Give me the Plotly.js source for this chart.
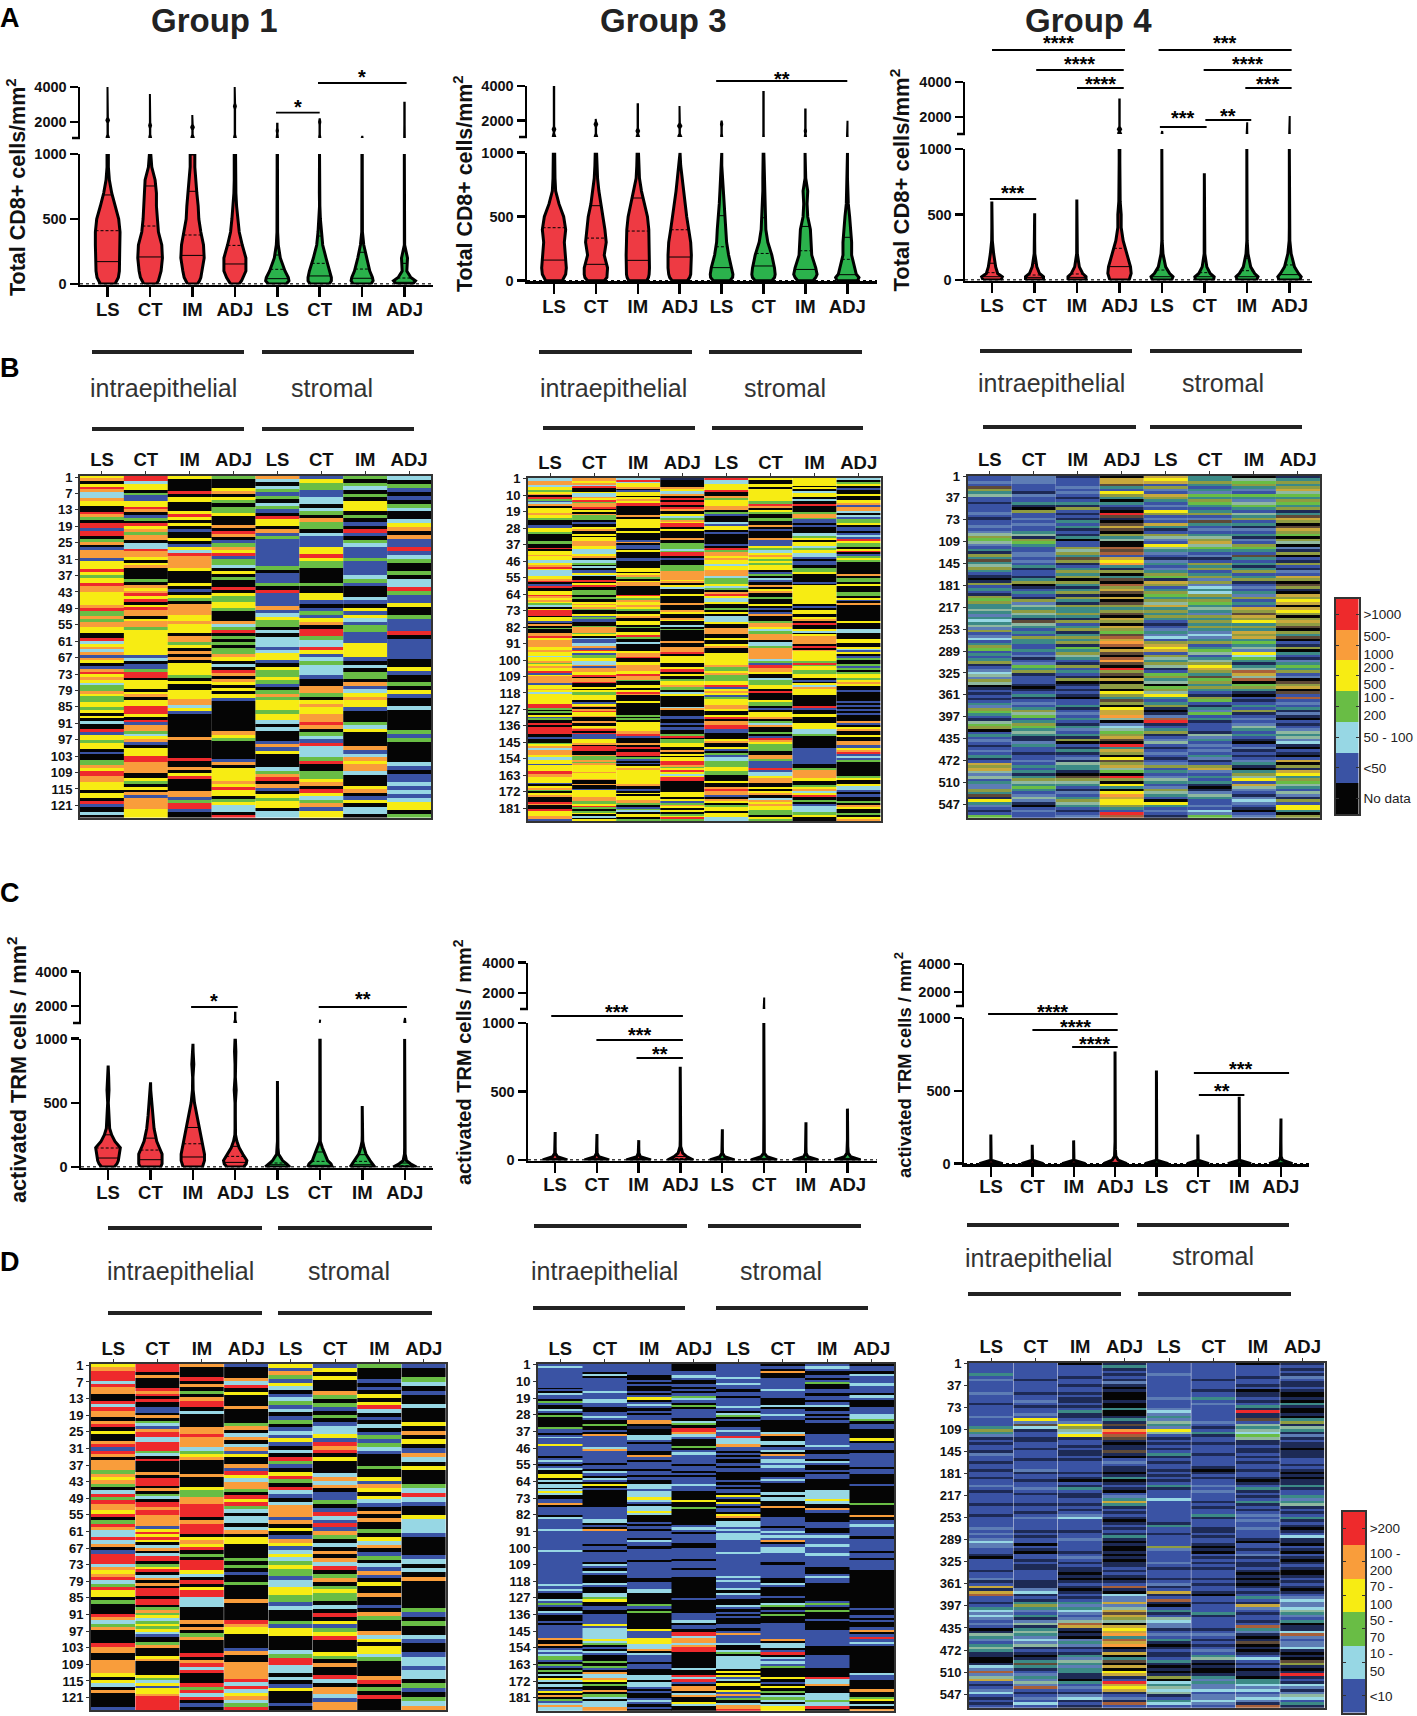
<!DOCTYPE html>
<html>
<head>
<meta charset="utf-8">
<script src="https://cdn.plot.ly/plotly-3.0.1.min.js"></script>
<style>html,body{margin:0;padding:0;background:#fff}</style>
</head>
<body>
<div id="plot" style="width:1417px;height:1716px"></div>
<script>
const W = 1417, H = 1716;
const FONT = '"Liberation Sans", Arial, sans-serif';
const sites = ['LS', 'CT', 'IM', 'ADJ', 'LS', 'CT', 'IM', 'ADJ'];

// violin outlines. widths are half widths at each knot
const cd8Knots = [0, 25, 50, 100, 200, 300, 400, 500, 600, 700, 800, 900, 1000];
const g1Cd8Widths = [
  [25, 31, 35, 38, 40, 40, 40, 36, 25, 15, 8, 5, 5],
  [22, 28, 32, 36, 40, 38, 28, 24, 22, 22, 18, 8, 5],
  [18, 24, 28, 32, 38, 36, 28, 22, 20, 16, 12, 10, 10],
  [16, 23, 28, 36, 36, 25, 16, 12, 8, 6, 5, 5, 5],
  [30, 38, 36, 26, 12, 6, 4, 3, 4, 3, 3, 3, 3],
  [32, 38, 38, 34, 22, 12, 8, 5, 3, 4, 4, 3, 2],
  [30, 36, 34, 26, 16, 8, 4, 3, 3, 3, 3, 3, 3],
  [28, 36, 22, 10, 12, 3, 3, 2, 2, 2, 2, 2, 2]
];
const g1Cd8LowMax = [1000, 1000, 1000, 1000, 1000, 1000, 1000, 1000];
const g1Cd8Tops = [4000, 3600, 2400, 4000, 1900, 2200, 1200, 3100];
const g1Cd8TopWidths = [4, 3, 4, 3, 2, 2, 1.5, 1];
const g1Cd8Bulges = [2100, 1800, 1700, 2900, 1500, 2000, 0, 1700];
const g1Cd8Q1 = [172, 208, 220, 154, 41, 62, 44, 13];
const g1Cd8Med = [410, 446, 377, 297, 113, 159, 115, 46];
const g1Cd8Q3 = [685, 754, 713, 690, 223, 369, 244, 159];

const g3Cd8Widths = [
  [28, 34, 38, 40, 36, 34, 38, 32, 18, 8, 6, 5, 5],
  [28, 36, 38, 38, 28, 34, 30, 26, 18, 12, 8, 6, 5],
  [30, 35, 37, 38, 38, 37, 36, 32, 24, 14, 8, 6, 5],
  [26, 33, 36, 38, 38, 36, 30, 24, 18, 14, 10, 6, 4],
  [28, 36, 37, 34, 24, 18, 16, 12, 10, 8, 6, 3, 2],
  [28, 36, 38, 36, 28, 16, 10, 8, 6, 5, 5, 5, 4],
  [26, 34, 38, 34, 22, 20, 18, 10, 8, 10, 4, 4, 4],
  [34, 38, 30, 26, 16, 16, 14, 10, 6, 5, 3, 3, 2]
];
const g3Cd8LowMax = [1000, 1000, 1000, 1000, 1000, 1000, 1000, 1000];
const g3Cd8Tops = [3950, 2100, 2950, 2850, 2000, 3650, 2650, 2000];
const g3Cd8TopWidths = [4, 4, 4, 5, 2, 1, 2, 1];
const g3Cd8Bulges = [1500, 1800, 1400, 1700, 1800, 0, 1400, 0];
const g3Cd8Q1 = [161, 128, 159, 185, 102, 115, 88, 47];
const g3Cd8Med = [414, 333, 388, 398, 265, 213, 234, 167];
const g3Cd8Q3 = [721, 586, 646, 890, 508, 492, 424, 339];

const g4Cd8Widths = [
  [30, 34, 20, 14, 8, 4, 2, 2, 2, 2, 2, 2, 2],
  [30, 30, 18, 10, 4, 3, 2, 2, 2, 2, 2, 2, 2],
  [30, 30, 20, 10, 4, 4, 2, 2, 2, 2, 2, 2, 2],
  [32, 36, 38, 36, 24, 14, 8, 8, 5, 4, 4, 4, 4],
  [32, 36, 26, 14, 6, 3, 3, 2, 2, 2, 2, 2, 2],
  [30, 32, 20, 10, 4, 3, 2, 2, 2, 2, 2, 2, 2],
  [32, 36, 26, 14, 6, 3, 2, 2, 2, 2, 2, 2, 2],
  [34, 38, 30, 18, 8, 4, 3, 3, 2, 2, 2, 2, 2]
];
const g4Cd8LowMax = [600, 510, 615, 1000, 1000, 815, 1000, 1000];
const g4Cd8Tops = [0, 0, 0, 3000, 1200, 0, 1700, 2050];
const g4Cd8TopWidths = [0, 0, 0, 5, 1.5, 0, 1, 1];
const g4Cd8Bulges = [0, 0, 0, 1300, 0, 0, 0, 0];
const g4Cd8Q1 = [25, 20, 20, 102, 25, 25, 25, 41];
const g4Cd8Med = [56, 38, 46, 242, 76, 56, 71, 115];
const g4Cd8Q3 = [128, 128, 140, 535, 178, 148, 166, 242];

const trmKnots = [0, 25, 50, 100, 150, 200, 250, 300, 400, 500, 600, 700, 800, 900, 1000];
const g1TrmWidths = [
  [22, 30, 34, 38, 40, 24, 14, 8, 6, 4, 6, 5, 1, 1, 1],
  [34, 38, 38, 38, 30, 22, 18, 14, 10, 7, 4, 2, 2, 2, 2],
  [32, 36, 38, 38, 34, 30, 27, 24, 16, 8, 4, 3, 6, 4, 2],
  [28, 36, 38, 26, 15, 8, 4, 3, 3, 3, 6, 3, 3, 5, 3],
  [40, 30, 18, 6, 4, 3, 2, 2, 2, 2, 2, 2, 2, 2, 2],
  [40, 36, 26, 18, 10, 4, 3, 3, 3, 5, 3, 3, 3, 3, 3],
  [40, 34, 26, 14, 8, 4, 3, 3, 3, 2, 2, 2, 2, 2, 2],
  [38, 20, 8, 4, 3, 3, 2, 2, 2, 2, 2, 2, 2, 2, 2]
];
const g1TrmLowMax = [790, 660, 960, 1000, 670, 1000, 475, 1000];
const g1TrmTops = [0, 0, 0, 1600, 0, 1200, 0, 1300];
const g1TrmTopWidths = [0, 0, 0, 3, 0, 0.8, 0, 2];
const g1TrmBulges = [0, 0, 0, 0, 0, 0, 0, 0];
const g1TrmQ1 = [70, 57, 78, 36, 18, 13, 18, 5];
const g1TrmMed = [148, 132, 181, 83, 31, 44, 44, 10];
const g1TrmQ3 = [251, 225, 308, 161, 96, 117, 96, 31];

const g3TrmWidths = [
  [40, 10, 4, 3, 3, 2, 2, 2, 2, 2, 2, 2, 2, 2, 2],
  [40, 9, 4, 3, 3, 2, 2, 2, 2, 2, 2, 2, 2, 2, 2],
  [40, 8, 4, 3, 3, 2, 2, 2, 2, 2, 2, 2, 2, 2, 2],
  [42, 22, 10, 4, 3, 3, 2, 2, 2, 2, 2, 2, 2, 2, 2],
  [40, 10, 4, 3, 3, 2, 2, 2, 2, 2, 2, 2, 2, 2, 2],
  [42, 12, 4, 3, 3, 2, 2, 2, 2, 2, 2, 2, 2, 2, 2],
  [40, 9, 4, 3, 3, 2, 2, 2, 2, 2, 2, 2, 2, 2, 2],
  [42, 12, 5, 3, 3, 2, 2, 2, 2, 2, 2, 2, 2, 2, 2]
];
const g3TrmLowMax = [205, 190, 145, 680, 225, 1000, 275, 375];
const g3TrmTops = [0, 0, 0, 0, 0, 1700, 0, 0];
const g3TrmTopWidths = [0, 0, 0, 0, 0, 1, 0, 0];
const g3TrmBulges = [0, 0, 0, 0, 0, 0, 0, 0];
const g3TrmQ1 = [2, 2, 2, 4, 2, 2, 2, 2];
const g3TrmMed = [5, 5, 5, 10, 5, 5, 5, 5];
const g3TrmQ3 = [12, 12, 12, 25, 12, 12, 12, 12];

const g4TrmWidths = [
  [38, 3, 2, 2, 2, 2, 2, 2, 2, 2, 2, 2, 2, 2, 2],
  [36, 3, 2, 2, 2, 2, 2, 2, 2, 2, 2, 2, 2, 2, 2],
  [38, 3, 2, 2, 2, 2, 2, 2, 2, 2, 2, 2, 2, 2, 2],
  [38, 12, 5, 3, 2, 2, 2, 2, 2, 2, 2, 2, 2, 2, 2],
  [38, 3, 2, 2, 2, 2, 2, 2, 2, 2, 2, 2, 2, 2, 2],
  [36, 3, 2, 2, 2, 2, 2, 2, 2, 2, 2, 2, 2, 2, 2],
  [38, 3, 2, 2, 2, 2, 2, 2, 2, 2, 2, 2, 2, 2, 2],
  [38, 8, 4, 2, 2, 2, 2, 2, 2, 2, 2, 2, 2, 2, 2]
];
const g4TrmLowMax = [200, 130, 160, 770, 640, 200, 460, 310];
const g4TrmTops = [0, 0, 0, 0, 0, 0, 0, 0];
const g4TrmTopWidths = [0, 0, 0, 0, 0, 0, 0, 0];
const g4TrmBulges = [0, 0, 0, 0, 0, 0, 0, 0];
const g4TrmQ1 = [1, 1, 1, 2, 1, 1, 1, 1];
const g4TrmMed = [2, 2, 2, 4, 2, 2, 2, 2];
const g4TrmQ3 = [4, 4, 4, 9, 4, 4, 4, 4];

// patient rows, top to bottom, one letter per band of cells as they show in the figure
// k no data, b lowest class, c, g, y, o, r highest class
// n t l m s a w p = blended tones seen in the two densest maps
const heatA1 = [
  'yokyroccoyykkrogkrrbrrkgokbooobyyyrygyyrooyyyyyorggogooyykkrcyocoboykboryoycggoyggyygykykckkrbyygyykbkkggoyrrooyyykyykrbkkck',
  'rrcyykgbbyyrokbgkryogookccrooykyokkkkgkoyoryrkyrookyoogyyyyyyyyybckbbgrrkyyykyokyyrrrykrboogcyobkyyyrrooookkygkykobooooyyy',
  'ykkkkrkyykkkyrykykbkkykbycrooooykkkkykbkygkooooyyoyyykoogykokokyyyygkykkyyyoocybkkkkkkkkokkkkkkrkkokyrkkkkoobgrrbkk',
  'gkkkyokygkggykkkokrokbgoyrbggckykgkkrkyggyygkkkocgrkgkgkggoykckrokoykykybkkkkkkkkkkoygkkkkkkbokyyyyoyryykgycckr',
  'ockcgbgkcgbkryykobgbbbbbbbbgkbbbgkrbbbbobcyggkckcccbcyybkyggygbkgogyyygyyckckkkbobykkkkcgorkobkygyykcc',
  'byggbbcckcgkoggkcbbbyyryggkkkkgkkyybkbgbyokrrgccrybcgcccbkkoogkyoyyoorokgcbrcccgrkkggyokrycgobyy',
  'gkgckgkyyykgkbkrbkgcbbbgbbbbcgbkkkcbkybycbggbbbyyyybkckggkobcyoyybkkkgcykkkkobcoyoockkkyokbykcck',
  'ckgbkbkgckkcyokobbrbcgkkgkccrgbbykkgbbbrkbbbbbkkybkkgkybkkckkkkkgbgkkkkkcbkbbcbcbcyykg'
];

const heatA3 = [
  'ccoocyygyokrgbcokyyyoyygkkkbbyygkkkkggkkrkyyoyyccyorycccyyorkbrkkyyroyoygckyrrrkyybkokgkkooryooooyyoyycyyogyoyyrbyoooobyyoycyyyyyyrrgkgkybgkkrkrrrrkkbkkgyocoooyccyybyyyrrooyyybkyogkyokkkrokkryyyoob',
  'ooyocrkkyccoyrgoorkykogggkbkkyokkykyyoooyycccyokccgkckbbyckkrkyrkkgggkgkkyoyogkkybgbbkkgooogykcbbccobrybggyyccobooyyrkoorkkykyggyyykbyokoryyokkokkyorkrbbbyyokrrrkkoggogoyyyyoyyyokkokkbyyyyooggyrgkgykcky',
  'crcyyokbyykyoyrrkkkkkokyyyyykkykkkkbokbbkykkkbbkkkkyykyogkyookkkkkrygoyyoygkkyokkyykgkkyyrgkkckkkkyoorkkyyoooyyroogkkyykyrokkkykkkkkkkgkgkyyyyyoorbkkkokrkkrrkgbkbkyoyyyyyyyyokkbkykyyoogkbgckyykg',
  'nkkkkoyccokrkrrkrokkycgoyrrkykkkkokkgggcgrrkbkkkgggoooooyokyckkkykkkkokkkoykkoykkckgkkkkkkokkooorkyyyykkyrrkykkgyyoggkcykkkkkkcokkkbbkkbkbbkkgrkggyykkokykyyrrogyrycyrrkkkkkkyyykybgoykykgyrg',
  'rccyyyrkkogyyyookgbkkkcbyykbkkkkkbkrgooyoyycyyooocgggycgkoryccykkgkykcccykkoookkykkyokkyyyyyyoggyogggyyrbyoybgyyyooykkyrkoorrbbkkkyokkybkgbccgggyyggkkkykkoroobkoykgyykyycc',
  'ykkykyyyyyygrokygkkgkkokbkkkobbbygcyoygygyykbgkcbkokyokkgkkykbkbokkgooycgoookccgooooocgbrooykkcggyykrkkkyggkbkyyokgcokkgkbroygggkkoogbbbrbccyookkykyokcoyoyyggkyg',
  'yyyykykcyykckkrkkkgoogbbkbkkkccgykyycgyyccbkbbkkggykkkkbkyyyyyyyyyykbkyykkyokrkkyckyooookrkoyyyyygrgyyggyykbkycoyyykkkkkkrbkkyykkkyyycccgkkkkkkbbbbbbbbbkkgooooyykkgyocyrkkgkbcccggykk',
  'ckgykbkkykkyyoboockcbggykbbkbcbryggkyrkbgygkkkkkkokggkykkkggkybkokkkkkkkkykkkcckkkyykkycbykbgkkgbgkgyygyoykkbkkkkkbkbkbkbkkkobkyokkykkoobbyorbcbgkkkkkkkgykkyccbkbbkkgkoykkgkyo'
];

const heatA4 = [
  'bbsbmltabbnbbbsbnbbsbsalgasbtnltmtaltbnknlbtbnlglttatstctaslbscbtlgbtbtlnbscaslaknbnbnbtslgtbnaglkbtbsbnbsbtnbwlwasabtssltmnytsbnbg',
  'sssbbbnsbbtnklbbsbsbbtanlgtbbssbsbtnbbntlknbtbnlsatlatnmatbtblttbbtbsnbsgtlnbbbnknbtnbsbtlagbtlgtatnnstbbnbbsbtbtntlatgtbsasnkbsbb',
  'nbbbsbsbnbtnlbnbntbtnbntkbblaltmlnbtltlkltntlnltnlttltnlbtlntltlngtlatbnlbtbnlknbnbnkbbtnbsbtbntsbtnlkbntnbsnattnkmlatbnsbtlatbnbs',
  'kwwmtbyltktbnkrmnkmwmkltakkpmpbwyotnlktmkplwmkwkmltlmkwlkwlgmpwopkwmkpomkrlmkwkllkyltmlkywwoakscaglwmkrtwlkymlwagkrlkytkyowyyltbrp',
  'wywblsbwltbsbylbsbwtnblasbyatsbnstbstlgnwlbtlgtlawtltltbnbstscblwywblatlanbgltakglaytbtlnknsprnbtlnbsabnbsbnbslbtbsatbslatbkytbsbn',
  'ttltbtsgtlgtbtlbsmtbsbtalwagtbsnbltlbtlslsctcltlgtatsltltltscstlbtgabtalywltmgltltbnlgbntsgbtnbbbnastbsbsbtsnblwsbtbtnknsatbbsbcsg',
  'kagltsbgtsagtbatlbtnsbtnsblgtbmtbtntlbtlnbsbtslbtbwlmwlytltwlwtgtasycgtntapwapkgltnkbnbtblnbsbsatbtbnkbsnbnbstnktlaybwasbnscsbnkbs',
  'ntltlwagtlgtlntmwlkmwlgklaksnlkbnlbnsbwlkmlnkwlywkwylklwlmkltmkbnlktbnstgtlbskmlwkmbpbsbtnsnkbnbsatascnkbnkbwklnwytlgatbasnlbyytkl'
];

const heatD1 = [
  'yorrrcrookkrcrookorkykkorbrokooogoyogkcrgrooyrkgroccrcokbrrrcoyorcgryykgkkkrocgokkkkrookkooooykyckokkkkb',
  'rrrkokkkkrorkrkkbbkokgcborrccrrrgckrkkkkokrrrkokgckrrorroooobyryrykcokcrrkgyrkcokokrrrkrrkgogycgygycbkkgokkkyokkkkkygcybyyorrrrr',
  'okkkrkokgkorrkckkkkoorooocgyokkkkokkkyggoorrrrkorrrkyoyrkgkrrryckrkyrrccckkkkokokgokkkkrkorcrkkkrgrcrkbk',
  'bkkkocrkykkkokkkkgokcokcobykkobrycoogkryrgckcckcokyykkkkgkgkbkkgkkkkokkkkkroyykkkkbokkooooorcrcyocgr',
  'ybogbyckbcgbckbgkbcbybkckrgbkyrgkrcbkcooobokykboybcycgyggbccyyggbckkkgbyykkkkcgrrcckckbykkkbk',
  'bykykkkogkgbkgkbccybrorkykkkcocokbbgkbrcbrbogkckokocrkgokgyggkckrkybgyrkkkygkokkrckoocboo',
  'gkkkbkbkykyrckbkckbgbgcbkkkgkkyboykycbkokokkgkycokbgkcbobkykkokkbkogkkkocykyycgkkkkorkgkrkkk',
  'bkkgckbkkckkkykokykbockykkkgcrcbkkycccbkkkkbckckokkkkkkgbkgkkcbkkbccbcckgbkgco'
];

const heatD3 = [
  'bcbbbbbbbbbbkbkcbbkgbkkcbkgkkkkkgbbkbcbbbybbbbbkbcbkbckkyykckcckcyckkbbokbbbbkcbbbbbcbbbbbbbbbbcbbbbbbbbbbbbbbbbcbbcbkkkcbgbkkcbkkkbkbbbbbbbokkokbcbcggbkgbkgkckyckcckbykokgbcocc',
  'bbbbkckbbbbbbcbbbccbbkkbbcbkkgkkbkobbbbbcobbbbbbkbbkcbkcbkykbkkkkkkkkbbbbbbcckbkobbbbbbkbbkbbbbbkcbkcbkkkkcbkkkccgykkbbkkbbbbbybcccccycgkbkcbkkkgkgbkoccoykgkkokgckcccoo',
  'bbbbbkkbkbkkbkbykbcbkbkbbooknkkkccbkbbbkkobkbbbkbbkbkkccbcccycbkccyckkkbkbkbbbkcbbkbbbbbkbbbbbbbkkbbbcckkkkkgbkgkkkkkkkybbbyyyccokcbbbkbbkkkcckccbkbkkbcbkbk',
  'kkkbbcbkkbkbkbgcbkgkbbbbkcgkrrocbkkkgkbcbbbbkbbkbkbbbcbbkkkkykkgkkkkkkkbcbkbbbbkkbbbbbkbbbkbbbkkkkkkkkkbkkkkkkbbbckbbkrrcoocorrkkkkkkkckkrcrbkookcokkyckk',
  'bbbbbbcbbcbbkbbkbbbbcbkcgkbkkkbcbbrcccobbkbkbkkbkbbkkkkbkbkbbkybkybkbbkyokcccbcbcccbbbbbbcbbbbbbbbbbcbcbbbckcbbkkkcbkbkbkkkbbkbobbbbckkcgkcccccckykybckykkybobgkcoor',
  'kbkokkbbbbbcbbbkkkckbbcbbkkkkkcokkcckbckobccbcbbkkbcbkkkkckcckkokkkkbbbbkbcbcbokbcccbbbbkbbbbbbkkcbkkkkbkkcgkbkgkkkbbbbbbbokcckbrkcbcbgkkkkykbkykgkcgckcyy',
  'bcbkkbkbgkkbbkbbkbckkbkbkbkkkkkbbbbbcbkkbbkcbkkbkbbkkkkkccccyckkobkkkkbbbkkbcbbbcbbbcbbbbbkkkbcbbkkkkkkkkbgbkgkkkbkkkkbbbbbbbkkkkbbbbbbkkkkrccokkkcccgccrk',
  'kbbkcbbbcbbbkcbkkkbbbccgkbbkkkkykbbbkbbbbbbkbbkkkkbkkkkkkkgkkkkokbbcbbbbkbbbbbkbbkbbbbkkkkkkkkkkkkkkkkbkkbkbkkbokbrbcbkkkkkkkkkkkcbbkkkkokkgykcko'
];

const heatD4 = [
  'bbbbtbsbbbbsbbbnbbbbsbbbtltsnbnbbnsbbnbbnbbnbbsbnbbbbnbbbnbbbbsbsbscssbbnkbbbbnbbsnbwnwpbbnbtcscsbsbknatsbtatnnkkncspsawbnbscbnbnb',
  'bbbbbbnbbbbnbbsbnbbsbysmcnbbnnbbnbbbnbbbsnbbnbbsbnbbbnbbnbsbbbbnbnbbkbnkbbnbnnbbbbnnnscnbntltsbtnsantatscsanbnkntmtnbstsaspbnbsbcb',
  'kbbbbnbbnbbnbnnbnbtnnbsylacynbbnbnnbnbbbbnbnkbntbnnbbnbnbscbbbbnbbsbbbbnbsbnbnnknknbnknbnbtstcsbsapwnknkstsnbntsatsttnnktbsbnscnbn',
  'ntnbnbnsnknkkknkktkkntnmnorpmnknnmnkbsbnnkntknbnkbstwtnbnbnknbnbntnknkknknknnbnbnknbpnkcsswsawmwlakwywotpwoknwktmkwkywnbrwywnbsnpb',
  'bbbbsbbbbbbbbsbbbscstsatsyabnbnbnbtnbnbbnbnbnbtnbbbcbbbbbbbbntbbnbbbblsbbbbsbnbbbnbsnbwnbpnkbtnbacssnbsbtnknbnnbtnknknlkctacanbtcb',
  'bbbbbbnbbbnbbtbsbbbbbbsbnbtnbbnbbbnbbbbnknbnbbsbsbbbnbnbbtnbbbnnbnbbnknkbnbnbnbbbnbnbbnkbbnbbbtnbbbbnbsbnbnbsbtanknkkntstsscbsscsb',
  'kbbbbnbbnbknnbnbtnrnnmbatacgannbnnbnbnbbnbbnknbtnbnbtnbnbsbsbbsbbbnkbbnbsnbnnbnknknknbnbtbnwsbnbbnbptsnknmknknbcbnbknnkttcscbscsnp',
  'nbnbnsbnnbnkknktnkknktlnatnsnbnnknnnbbnbnknknntnbbtstanbnbtnbnknbcnnkbnkbnknbnkknbnbnknbscsscatsbtknncpsbsscnknkmlnknrnbncsnsacbtn'
];

const classLetters = 'kbcgyorntlmsawp';
const classColors = ['#050505', '#3a53a4', '#97d7e4', '#69bd45', '#f7ec13', '#f99d3b', '#ee2a2c',
  '#1d2a55', '#3c8a86', '#8f9c42', '#5e4a38', '#5d7db5', '#8fb8a0', '#c8a83c', '#a8603a'];

const rowTicksG1 = [1, 7, 13, 19, 25, 31, 37, 43, 49, 55, 61, 67, 73, 79, 85, 91, 97, 103, 109, 115, 121];
const rowTicksG3 = [1, 10, 19, 28, 37, 46, 55, 64, 73, 82, 91, 100, 109, 118, 127, 136, 145, 154, 163, 172, 181];
const rowTicksG4 = [1, 37, 73, 109, 145, 181, 217, 253, 289, 325, 361, 397, 435, 472, 510, 547];

const cd8Legend = ['No data', '<50', '50 - 100', '100 -<br>200', '200 -<br>500', '500-<br>1000', '>1000'];
const trmLegend = ['<10', '10 -<br>50', '50 -<br>70', '70 -<br>100', '100 -<br>200', '>200'];

const data = [];
const layout = {
  width: W, height: H, showlegend: false,
  margin: {l: 0, r: 0, t: 0, b: 0},
  paper_bgcolor: '#fff', plot_bgcolor: 'rgba(0,0,0,0)',
  font: {family: FONT, color: '#000'},
  annotations: [], shapes: []
};

function fx(x) { return x / W; }
function fy(y) { return 1 - y / H; }

let axisCount = 1;
function nextAxis() { axisCount++; return axisCount; }

function label(text, x, y, size, opts) {
  layout.annotations.push(Object.assign({
    text: text, x: fx(x), y: fy(y), xref: 'paper', yref: 'paper',
    showarrow: false, xanchor: 'center', yanchor: 'middle',
    font: {family: FONT, size: size, color: '#111'}
  }, opts || {}));
}

function bar(x0, x1, y) {
  layout.shapes.push({type: 'line', xref: 'paper', yref: 'paper',
    x0: fx(x0), x1: fx(x1), y0: fy(y), y1: fy(y),
    line: {color: '#222', width: 4}});
}

function widthAt(knots, widths, v) {
  let w = widths[widths.length - 1];
  for (let i = 1; i < knots.length; i++) {
    if (v <= knots[i]) {
      const t = (v - knots[i - 1]) / (knots[i] - knots[i - 1]);
      w = widths[i - 1] + t * (widths[i] - widths[i - 1]);
      break;
    }
  }
  // widths were read to the outside of the outline, the stroke adds the rest
  return Math.max(w - 3, 0.5);
}

// g = where the panel sits in pixels, v = the values
function violinPanel(g, v) {
  const xn = nextAxis(), yLow = nextAxis(), yUp = nextAxis();
  const unit = 1 / (3 * g.step);
  const xRange = [(g.x0 - g.cat0) / g.step, (g.x1 - g.cat0) / g.step];
  const pxPerUnit = (g.y0 - g.y1000) / 1000;
  const upPerUnit = (g.y2000 - g.y4000) / 2000;
  const brkVal = 4000 - (g.yBrk - g.y4000) / upPerUnit;
  const axisBase = {
    showgrid: false, zeroline: false, showline: true, linecolor: '#000', linewidth: 2.5,
    ticks: 'outside', tickcolor: '#000', tickwidth: 2.5,
    tickfont: {family: FONT, size: 14.5, color: '#111', weight: 'bold'}
  };
  layout['xaxis' + xn] = Object.assign({}, axisBase, {
    domain: [fx(g.x0), fx(g.x1)], range: xRange, anchor: 'y' + yLow,
    tickvals: [0, 1, 2, 3, 4, 5, 6, 7], ticktext: sites, ticklen: 10, ticklabelstandoff: g.labelShift,
    tickfont: {family: FONT, size: 18.5, color: '#111', weight: 'bold'}
  });
  layout['yaxis' + yLow] = Object.assign({}, axisBase, {
    domain: [fy(g.y0 + 0.5), fy(g.y1000)], range: [-0.5 / pxPerUnit, 1000], anchor: 'x' + xn,
    tickvals: [0, 500, 1000], ticklen: 8
  });
  layout['yaxis' + yUp] = Object.assign({}, axisBase, {
    domain: [fy(g.yBrk), fy(g.y4000)], range: [brkVal, 4000], anchor: 'x' + xn,
    tickvals: [2000, 4000], ticklen: 8
  });
  // bottom tick of the upper axis segment, at the break
  layout.shapes.push({type: 'line', xref: 'paper', yref: 'paper', x0: fx(g.x0 - 8), x1: fx(g.x0),
    y0: fy(g.yBrk), y1: fy(g.yBrk), line: {color: '#000', width: 2.5}});

  // keeps the upper axis drawn when no violin reaches it
  data.push({x: [xRange[0]], y: [4000], xaxis: 'x' + xn, yaxis: 'y' + yUp, type: 'scatter', mode: 'none', hoverinfo: 'skip'});
  data.push({x: xRange, y: [0, 0], xaxis: 'x' + xn, yaxis: 'y' + yLow, type: 'scatter', mode: 'lines',
    line: {color: '#000', width: 1.5, dash: 'dot'}, hoverinfo: 'skip'});

  const solidX = [], solidY = [], dashX = [], dashY = [];
  for (let i = 0; i < 8; i++) {
    const w = v.widths[i], top = v.lowMax[i];
    const vals = v.knots.filter(k => k < top).concat([top]);
    const hw = vals.map(k => widthAt(v.knots, w, k) * unit);
    const xs = vals.map((k, j) => i - hw[j]).concat(vals.map((k, j) => i + hw[j]).reverse());
    data.push({
      x: xs.concat([xs[0]]), y: vals.concat(vals.slice().reverse()).concat([vals[0]]),
      xaxis: 'x' + xn, yaxis: 'y' + yLow, type: 'scatter', mode: 'lines', fill: 'toself',
      fillcolor: i < 4 ? '#ee3a43' : '#2bb24c', line: {color: '#000', width: 3}, hoverinfo: 'skip'
    });
    if (v.tops[i] > 0) {
      const tw = v.topWidths[i], stem = Math.min(tw, 0.6), b = v.bulges[i];
      let pts = [[brkVal, tw]];
      if (v.tops[i] - brkVal > 300) pts.push([brkVal + 200, stem]);
      if (b > brkVal + 200 && b < v.tops[i]) pts.push([b - 150, stem], [b, tw], [b + 150, stem]);
      pts.push([v.tops[i], stem]);
      const uy = pts.map(p => p[0]);
      const ux = pts.map(p => i - p[1] * unit).concat(pts.map(p => i + p[1] * unit).reverse());
      data.push({
        x: ux.concat([ux[0]]), y: uy.concat(uy.slice().reverse()).concat([uy[0]]),
        xaxis: 'x' + xn, yaxis: 'y' + yUp, type: 'scatter', mode: 'lines', fill: 'toself',
        fillcolor: '#000', line: {color: '#000', width: 2}, hoverinfo: 'skip'
      });
    }
    [v.q1[i], v.q3[i]].forEach(q => {
      const d = widthAt(v.knots, w, q) * unit;
      solidX.push(i - d, i + d, null); solidY.push(q, q, null);
    });
    const dm = widthAt(v.knots, w, v.med[i]) * unit;
    dashX.push(i - dm, i + dm, null); dashY.push(v.med[i], v.med[i], null);
  }
  data.push({x: solidX, y: solidY, xaxis: 'x' + xn, yaxis: 'y' + yLow, type: 'scatter', mode: 'lines',
    line: {color: '#000', width: 1}, hoverinfo: 'skip'});
  data.push({x: dashX, y: dashY, xaxis: 'x' + xn, yaxis: 'y' + yLow, type: 'scatter', mode: 'lines',
    line: {color: '#000', width: 1, dash: '3px,2px'}, hoverinfo: 'skip'});

  // significance brackets: from, to in site positions, then y of line and star label in pixels
  (g.brackets || []).forEach(b => {
    layout.shapes.push({type: 'line', xref: 'x' + xn, yref: 'paper', x0: b[0], x1: b[1],
      y0: fy(b[2]), y1: fy(b[2]), line: {color: '#000', width: 1.8}});
    layout.annotations.push({text: b[3], xref: 'x' + xn, yref: 'paper', x: (b[0] + b[1]) / 2, y: fy(b[4] + 4),
      showarrow: false, yanchor: 'middle', font: {family: FONT, size: 20, color: '#000', weight: 'bold'}});
  });
}

function heatPanel(g, columns, ticks, rows) {
  const xn = nextAxis(), yn = nextAxis();
  const colorscale = [];
  classColors.forEach((c, i) => {
    colorscale.push([i / classColors.length, c], [(i + 1) / classColors.length, c]);
  });
  const zMax = classColors.length - 0.5;
  const tickPositions = ticks.map((t, i) => 1 + i * (ticks[1] - ticks[0]));
  columns.forEach((col, c) => {
    const dy = rows / col.length;
    data.push({
      type: 'heatmap', xaxis: 'x' + xn, yaxis: 'y' + yn, x0: c, dx: 1, y0: 0.5 + dy / 2, dy: dy,
      z: col.split('').map(ch => [Math.max(classLetters.indexOf(ch), 0)]),
      zmin: -0.5, zmax: zMax, colorscale: colorscale, showscale: false, hoverinfo: 'skip'
    });
  });
  const frame = {showgrid: false, zeroline: false, showline: true, mirror: true, linecolor: '#333', linewidth: 2,
    ticks: 'outside', tickcolor: '#333', tickwidth: 1, ticklen: 3};
  layout['xaxis' + xn] = Object.assign({}, frame, {
    domain: [fx(g.x0), fx(g.x1)], range: [-0.5, 7.5], anchor: 'y' + yn, side: 'top',
    tickvals: [0, 1, 2, 3, 4, 5, 6, 7], ticktext: sites, ticklabelstandoff: -3,
    tickfont: {family: FONT, size: 18.5, color: '#111', weight: 'bold'}
  });
  layout['yaxis' + yn] = Object.assign({}, frame, {
    domain: [fy(g.y1), fy(g.y0)], range: [rows + 0.5, 0.5], anchor: 'x' + xn,
    tickvals: tickPositions, ticktext: ticks.map(String),
    tickfont: {family: FONT, size: 13, color: '#111', weight: 'bold'}
  });
}

function legendPanel(g, labels, first) {
  const xn = nextAxis(), yn = nextAxis();
  const n = labels.length;
  const colors = classColors.slice(first, first + n);
  const colorscale = [];
  colors.forEach((c, i) => colorscale.push([i / n, c], [(i + 1) / n, c]));
  data.push({type: 'heatmap', xaxis: 'x' + xn, yaxis: 'y' + yn, x: [0], y: labels.map((l, i) => i),
    z: labels.map((l, i) => [i]), zmin: -0.5, zmax: n - 0.5, colorscale: colorscale, showscale: false, hoverinfo: 'skip'});
  layout['xaxis' + xn] = {domain: [fx(g.x0), fx(g.x1)], anchor: 'y' + yn, range: [-0.5, 0.5], showticklabels: false,
    ticks: '', showgrid: false, zeroline: false, showline: true, mirror: true, linecolor: '#333', linewidth: 2};
  layout['yaxis' + yn] = {domain: [fy(g.y1), fy(g.y0)], anchor: 'x' + xn, side: 'right', range: [-0.5, n - 0.5],
    tickvals: labels.map((l, i) => i), ticktext: labels, showgrid: false, zeroline: false,
    showline: true, mirror: 'ticks', linecolor: '#333', linewidth: 2, ticks: 'inside', ticklen: 3, tickcolor: '#333',
    tickfont: {family: FONT, size: 13.5, color: '#222'}};
}

// top row of violins
violinPanel({x0: 80, x1: 433, cat0: 107.7, step: 42.4, y0: 284, y1000: 154, y4000: 87, y2000: 122, yBrk: 138, labelShift: -3,
  brackets: [[3.97, 5, 112.7, '*', 103], [4.96, 7.05, 83, '*', 73]]},
  {knots: cd8Knots, widths: g1Cd8Widths, lowMax: g1Cd8LowMax, tops: g1Cd8Tops, topWidths: g1Cd8TopWidths, bulges: g1Cd8Bulges, q1: g1Cd8Q1, med: g1Cd8Med, q3: g1Cd8Q3});
violinPanel({x0: 527, x1: 877, cat0: 554, step: 41.9, y0: 280.7, y1000: 152.7, y4000: 86, y2000: 120.7, yBrk: 137, labelShift: -3,
  brackets: [[3.87, 7, 81, '**', 75]]},
  {knots: cd8Knots, widths: g3Cd8Widths, lowMax: g3Cd8LowMax, tops: g3Cd8Tops, topWidths: g3Cd8TopWidths, bulges: g3Cd8Bulges, q1: g3Cd8Q1, med: g3Cd8Med, q3: g3Cd8Q3});
violinPanel({x0: 965, x1: 1312, cat0: 992, step: 42.5, y0: 280, y1000: 149, y4000: 82, y2000: 117, yBrk: 134, labelShift: -3,
  brackets: [[0, 3.13, 50, '****', 39], [1.04, 3.1, 70, '****', 60], [2, 3.1, 88, '****', 80],
    [3.92, 7.05, 50, '***', 39], [4.98, 7.05, 70, '****', 60], [5.96, 7.05, 88, '***', 80],
    [3.95, 5.05, 127, '***', 114], [5.02, 6.1, 120, '**', 112], [-0.05, 1.04, 199, '***', 189]]},
  {knots: cd8Knots, widths: g4Cd8Widths, lowMax: g4Cd8LowMax, tops: g4Cd8Tops, topWidths: g4Cd8TopWidths, bulges: g4Cd8Bulges, q1: g4Cd8Q1, med: g4Cd8Med, q3: g4Cd8Q3});

// lower row of violins
violinPanel({x0: 81, x1: 433, cat0: 108, step: 42.4, y0: 1167, y1000: 1038.7, y4000: 971.7, y2000: 1006, yBrk: 1023, labelShift: -3,
  brackets: [[1.96, 3.06, 1007, '*', 997], [4.97, 7.05, 1007, '**', 995]]},
  {knots: trmKnots, widths: g1TrmWidths, lowMax: g1TrmLowMax, tops: g1TrmTops, topWidths: g1TrmTopWidths, bulges: g1TrmBulges, q1: g1TrmQ1, med: g1TrmMed, q3: g1TrmQ3});
violinPanel({x0: 528, x1: 877, cat0: 555, step: 41.8, y0: 1160, y1000: 1023, y4000: 962.7, y2000: 993, yBrk: 1009, labelShift: -4,
  brackets: [[-0.09, 3.06, 1016, '***', 1008], [0.99, 3.06, 1040, '***', 1031], [1.95, 3.06, 1058, '**', 1050]]},
  {knots: trmKnots, widths: g3TrmWidths, lowMax: g3TrmLowMax, tops: g3TrmTops, topWidths: g3TrmTopWidths, bulges: g3TrmBulges, q1: g3TrmQ1, med: g3TrmMed, q3: g3TrmQ3});
violinPanel({x0: 964, x1: 1309, cat0: 991, step: 41.4, y0: 1163.7, y1000: 1018, y4000: 964, y2000: 992, yBrk: 1006, labelShift: -6,
  brackets: [[-0.07, 3.06, 1014, '****', 1008], [1, 3.06, 1030, '****', 1023], [1.96, 3.06, 1047, '****', 1040],
    [4.9, 7.2, 1073, '***', 1065], [5.02, 6.12, 1095, '**', 1087]]},
  {knots: trmKnots, widths: g4TrmWidths, lowMax: g4TrmLowMax, tops: g4TrmTops, topWidths: g4TrmTopWidths, bulges: g4TrmBulges, q1: g4TrmQ1, med: g4TrmMed, q3: g4TrmQ3});

heatPanel({x0: 80, x1: 431, y0: 475.7, y1: 817.7}, heatA1, rowTicksG1, 125);
heatPanel({x0: 528, x1: 880.7, y0: 478, y1: 821}, heatA3, rowTicksG3, 187.5);
heatPanel({x0: 967.7, x1: 1320, y0: 475.7, y1: 818}, heatA4, rowTicksG4, 563);
heatPanel({x0: 91, x1: 446, y0: 1364, y1: 1710}, heatD1, rowTicksG1, 125);
heatPanel({x0: 538, x1: 894, y0: 1364, y1: 1710.7}, heatD3, rowTicksG3, 187.5);
heatPanel({x0: 969, x1: 1324.7, y0: 1362.7, y1: 1708}, heatD4, rowTicksG4, 563);

legendPanel({x0: 1335.7, x1: 1358.7, y0: 599, y1: 814}, cd8Legend, 0);
legendPanel({x0: 1343, x1: 1365, y0: 1511.7, y1: 1712.7}, trmLegend, 1);

// titles and side labels
[['Group 1', 214], ['Group 3', 663.5], ['Group 4', 1088]].forEach(t => {
  label(t[0], t[1], 20, 33, {font: {family: FONT, size: 33, color: '#222', weight: 'bold'}});
});
[['A', 18], ['B', 368], ['C', 893], ['D', 1262]].forEach(p => {
  label(p[0], 10, p[1], 27, {font: {family: FONT, size: 27, color: '#000', weight: 'bold'}});
});
[['Total CD8+ cells/mm<sup>2</sup>', 16, 187, 21.5], ['Total CD8+ cells/mm<sup>2</sup>', 463, 184, 21.4], ['Total CD8+ cells/mm<sup>2</sup>', 900, 180.5, 22],
 ['activated TRM cells / mm<sup>2</sup>', 17, 1070, 21.7], ['activated TRM cells / mm<sup>2</sup>', 462, 1062, 20], ['activated TRM cells / mm<sup>2</sup>', 903, 1065, 18.4]
].forEach(t => {
  label(t[0], t[1], t[2], t[3], {textangle: -90, font: {family: FONT, size: t[3], color: '#111', weight: 'bold'}});
});
[['intraepithelial', 163, 388], ['stromal', 332, 388], ['intraepithelial', 613, 388], ['stromal', 784.5, 388],
 ['intraepithelial', 1051, 383], ['stromal', 1223, 383], ['intraepithelial', 180, 1271], ['stromal', 349, 1271],
 ['intraepithelial', 604, 1271], ['stromal', 781, 1271], ['intraepithelial', 1038.5, 1258], ['stromal', 1213, 1256]
].forEach(t => {
  label(t[0], t[1], t[2], 25, {font: {family: FONT, size: 25, color: '#333'}});
});

// heavy rules above and below the compartment labels
[[92, 244, 352], [262, 414, 352], [92, 244, 429], [262, 414, 429],
 [539, 692, 352], [709, 862, 352], [543, 695, 428], [712, 863, 428],
 [980, 1132, 351], [1150, 1302, 351], [983, 1136, 427], [1150, 1302, 427],
 [108, 262, 1228], [278, 432, 1228], [108, 262, 1313], [278, 432, 1313],
 [534, 687, 1226], [708, 861, 1226], [533, 685, 1308], [716, 868, 1308],
 [967, 1119, 1225], [1137, 1289, 1225], [968, 1121, 1294], [1138, 1291, 1294]
].forEach(b => bar(b[0], b[1], b[2]));

Plotly.newPlot('plot', data, layout, {staticPlot: true, displayModeBar: false});
</script>
</body>
</html>
